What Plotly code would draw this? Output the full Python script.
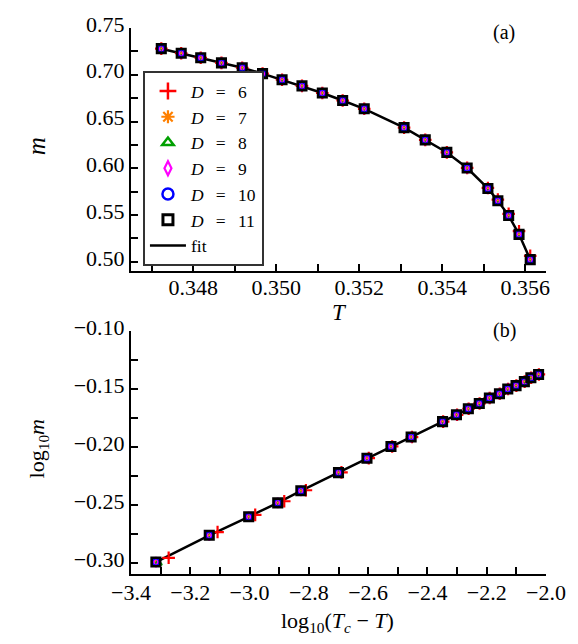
import plotly.graph_objects as go

# ---------------- data: panel (a) ----------------
T_vals = [0.34723, 0.34771, 0.34818, 0.34868, 0.34918, 0.34967, 0.35014, 0.35062,
          0.35111, 0.35160, 0.35212, 0.35308, 0.35359, 0.35411, 0.35460, 0.35510,
          0.35534, 0.35560, 0.35585, 0.35612]
m_common = [0.7279, 0.7230, 0.7182, 0.7127, 0.7075, 0.7012, 0.6947, 0.6881,
            0.6805, 0.6725, 0.6636, 0.6435, 0.6304, 0.6170, 0.6003, 0.5785,
            0.5654, 0.5495, 0.5294, 0.5024]
m_D6 = [0.7279, 0.7230, 0.7182, 0.7127, 0.7075, 0.7012, 0.6947, 0.6881,
        0.6805, 0.6725, 0.6636, 0.6435, 0.6304, 0.6170, 0.6005, 0.5790,
        0.5665, 0.5514, 0.5328, 0.5064]
m_D7 = m_common
m_D8 = m_common
m_D9 = m_common
m_D10 = m_common
m_D11 = m_common

# ---------------- data: panel (b) ----------------
logdT_D11 = [-3.316, -3.136, -3.003, -2.905, -2.827, -2.700, -2.604, -2.523, -2.455, -2.349,
             -2.302, -2.262, -2.225, -2.191, -2.157, -2.129, -2.101, -2.073, -2.051, -2.025]
logm_D11 = [-0.2992, -0.2761, -0.2601, -0.2481, -0.2377, -0.2220, -0.2096, -0.1995, -0.1913, -0.1780,
            -0.1721, -0.1669, -0.1623, -0.1576, -0.1540, -0.1498, -0.1469, -0.1435, -0.1401, -0.1373]
logdT_D6 = [-3.273, -3.108, -2.981, -2.883, -2.810, -2.690, -2.598, -2.519, -2.452, -2.347,
            -2.300, -2.261, -2.224, -2.190, -2.156, -2.128, -2.100, -2.072, -2.050, -2.024]
logm_D6 = [-0.2955, -0.2733, -0.2585, -0.2467, -0.2372, -0.2218, -0.2095, -0.1994, -0.1913, -0.1780,
           -0.1721, -0.1669, -0.1623, -0.1576, -0.1540, -0.1498, -0.1469, -0.1435, -0.1401, -0.1373]
logdT_D8 = [-3.308] + logdT_D11[1:]
logm_D8 = [-0.3002] + logm_D11[1:]

D_labels = ["6", "7", "8", "9", "10", "11"]

FONT = "Liberation Serif"

# data-marker styles (small, nested inside the square) and legend styles (larger)
styles = {
    "6": dict(symbol="cross-thin-open", color="#FF0000", size=9, lw=2.2, lsize=12, llw=2.5),
    "7": dict(symbol="asterisk-open", color="#FF8000", size=7, lw=1.8, lsize=11, llw=2.2),
    "8": dict(symbol="triangle-up-open", color="#00A000", size=6.5, lw=2, lsize=10, llw=2.5),
    "9": dict(symbol="diamond-tall-open", color="#FF00FF", size=7, lw=2, lsize=10, llw=2.2),
    "10": dict(symbol="circle-open", color="#0000FF", size=7, lw=2, lsize=11, llw=2.5),
    "11": dict(symbol="square-open", color="#000000", size=8.5, lw=2.6, lsize=10, llw=3),
}

top_m = {"6": m_D6, "7": m_D7, "8": m_D8, "9": m_D9, "10": m_D10, "11": m_D11}
bot_x = {"6": logdT_D6, "7": logdT_D11, "8": logdT_D8, "9": logdT_D11, "10": logdT_D11, "11": logdT_D11}
bot_y = {"6": logm_D6, "7": logm_D11, "8": logm_D8, "9": logm_D11, "10": logm_D11, "11": logm_D11}

fig = go.Figure()

# fit lines (drawn first, underneath)
fig.add_trace(go.Scatter(x=T_vals, y=m_D11, mode="lines", showlegend=False,
                         line=dict(color="black", width=2.5), xaxis="x", yaxis="y"))
fig.add_trace(go.Scatter(x=logdT_D11, y=logm_D11, mode="lines", showlegend=False,
                         line=dict(color="black", width=2.5), xaxis="x2", yaxis="y2"))

for d in D_labels:
    s = styles[d]
    mk = dict(symbol=s["symbol"], size=s["size"], color=s["color"],
              line=dict(color=s["color"], width=s["lw"]))
    fig.add_trace(go.Scatter(x=T_vals, y=top_m[d], mode="markers", showlegend=False,
                             marker=mk, xaxis="x", yaxis="y"))
    fig.add_trace(go.Scatter(x=bot_x[d], y=bot_y[d], mode="markers",
                             showlegend=False, marker=mk,
                             xaxis="x2", yaxis="y2"))

# legend-only entries
for d in D_labels:
    s = styles[d]
    fig.add_trace(go.Scatter(x=[None], y=[None], mode="markers",
                             name="<i>D</i>\u2002\u2009=\u2002\u2009" + d,
                             marker=dict(symbol=s["symbol"], size=s["lsize"], color=s["color"],
                                         line=dict(color=s["color"], width=s["llw"])),
                             xaxis="x", yaxis="y"))
fig.add_trace(go.Scatter(x=[None], y=[None], mode="lines", name="fit",
                         line=dict(color="black", width=2.5), xaxis="x", yaxis="y"))

tickfont = dict(family=FONT, size=22, color="black")
axis_common = dict(showline=True, linecolor="black", linewidth=2, mirror=False,
                   ticks="inside", ticklen=7, tickwidth=1.5, tickcolor="black",
                   showgrid=False, zeroline=False, tickfont=tickfont)
minor_common = dict(ticks="inside", ticklen=7, tickwidth=1.5, tickcolor="black")

fig.update_layout(
    width=578, height=644,
    margin=dict(l=131, r=31, t=14, b=70),
    paper_bgcolor="white", plot_bgcolor="white",
    font=dict(family=FONT, color="black"),
    xaxis=dict(domain=[0, 1], range=[0.3465, 0.3565], dtick=0.002, tick0=0.348,
               tickformat=".3f", anchor="y", ticklabelstandoff=-4,
               minor=dict(dtick=0.001, tick0=0.347, **minor_common), **axis_common),
    yaxis=dict(domain=[0.5554, 1], range=[0.4905, 0.75], dtick=0.05, tick0=0.5,
               tickformat=".2f", anchor="x", ticklabelshift=-4,
               minor=dict(dtick=0.025, tick0=0.5, **minor_common), **axis_common),
    xaxis2=dict(domain=[0, 1], range=[-3.4, -2.0], dtick=0.2, tick0=-3.4,
                tickformat=".1f", anchor="y2", ticklabelstandoff=-2,
                minor=dict(dtick=0.1, tick0=-3.4, **minor_common), **axis_common),
    yaxis2=dict(domain=[0, 0.4446], range=[-0.3095, -0.10], dtick=0.05, tick0=-0.30,
                tickformat=".2f", anchor="x2", ticklabelshift=-4,
                minor=dict(dtick=0.025, tick0=-0.30, **minor_common), **axis_common),
    legend=dict(x=0.0288, y=0.921, xanchor="left", yanchor="top",
                bgcolor="white", bordercolor="#333333", borderwidth=2,
                font=dict(family=FONT, size=17.5, color="black"),
                itemwidth=36, traceorder="normal"),
)

plot_w = 578 - 131 - 31
plot_h = 644 - 14 - 70


def px_ann(text, x, y, size, angle=0):
    return dict(text=text, x=(x - 131) / plot_w, y=(644 - 70 - y) / plot_h,
                xref="paper", yref="paper", showarrow=False,
                xanchor="center", yanchor="middle", textangle=angle,
                font=dict(family=FONT, size=size, color="black"))


fig.update_layout(annotations=[
    px_ann("(a)", 505, 19, 20),
    px_ann("(b)", 505, 324, 20),
    px_ann("<i>T</i>", 340, 306, 23),
    px_ann("<i>m</i>", 37, 135, 25, -90),
    px_ann("log<sub>10</sub>(<i>T</i><sub><i>c</i></sub> − <i>T</i>)", 338, 623, 22),
    px_ann("log<sub>10</sub><i>m</i>", 38, 446, 22, -90),
])

fig.write_html("out.html")
